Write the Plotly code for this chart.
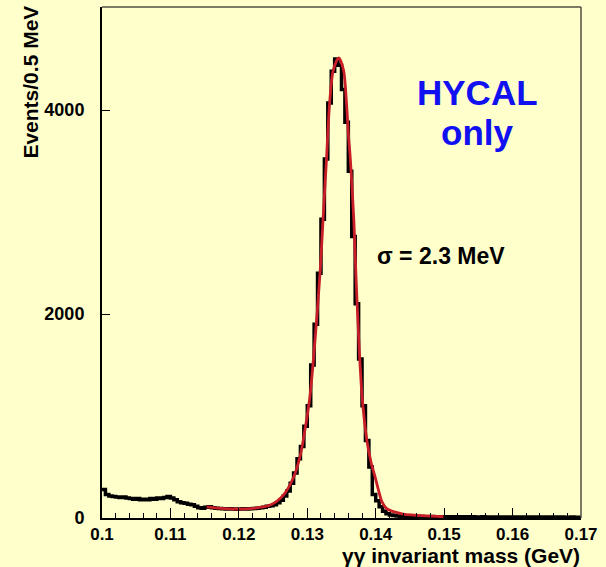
import numpy as np
import plotly.graph_objects as go

# ---- data ----
bin_low = 0.100
bin_width = 0.0005
counts = [
    280, 230, 215, 210, 205, 200, 205, 195, 190, 185,
    190, 180, 185, 180, 190, 185, 195, 190, 200, 210,
    195, 180, 160, 150, 145, 135, 130, 115, 100, 95,
    105, 110, 100, 95, 92, 90, 88, 90, 88, 85,
    88, 90, 88, 90, 92, 95, 100, 105, 115, 120,
    130, 150, 175, 215, 265, 340, 440, 580, 700, 900,
    1100, 1500, 1900, 2400, 2930, 3520, 4070, 4380, 4500, 4440,
    4200, 3880, 3400, 2760, 2100, 1560, 1100, 760, 500, 230,
    170, 110, 65, 42, 30, 24, 20, 18, 16, 15,
    14, 15, 13, 14, 12, 13, 14, 12, 13, 12,
    13, 12, 11, 13, 12, 11, 12, 11, 12, 10,
    11, 12, 10, 11, 10, 11, 10, 9, 10, 11,
    10, 9, 10, 9, 10, 9, 9, 10, 8, 9,
    9, 8, 9, 8, 9, 8, 8, 9, 8, 8,
]

fit_mass = [0.1153, 0.1173, 0.1197, 0.1217, 0.1226, 0.1246, 0.1265, 0.1280,
            0.1290, 0.1297, 0.1304, 0.1312, 0.1319, 0.1323, 0.1328, 0.1330,
            0.1333, 0.1338, 0.1346, 0.1353, 0.1357, 0.1360, 0.1363, 0.1368,
            0.1371, 0.1375, 0.1380, 0.1387, 0.1393, 0.1399, 0.1404, 0.1409,
            0.1416, 0.1426, 0.1440, 0.1475, 0.1499]
fit_counts = [110, 95, 88, 92, 100, 127, 225, 400,
              620, 880, 1200, 1800, 2440, 2920, 3510, 3770,
              4100, 4390, 4510, 4390, 4100, 3770, 3510, 2920,
              2400, 1780, 1200, 765, 552, 405, 275, 160,
              92, 62, 39, 20, 13]

x_ticks = [0.1, 0.11, 0.12, 0.13, 0.14, 0.15, 0.16, 0.17]
x_tick_text = ["0.1", "0.11", "0.12", "0.13", "0.14", "0.15", "0.16", "0.17"]
y_ticks = [0, 2000, 4000]
y_tick_text = ["0", "2000", "4000"]

# ---- build step histogram ----
edges = bin_low + bin_width * np.arange(len(counts) + 1)
hx = list(edges)
hy = list(counts) + [counts[-1]]

BG = "rgb(255,255,204)"
FONT = "Liberation Sans, Arial, sans-serif"

fig = go.Figure()
fig.add_trace(go.Scatter(x=hx, y=hy, mode="lines", line=dict(shape="hv", color="black", width=3.5),
                         hoverinfo="skip", showlegend=False))
fig.add_trace(go.Scatter(x=fit_mass, y=fit_counts, mode="lines",
                         line=dict(shape="spline", smoothing=0.8, color="rgb(200,30,40)", width=2.8),
                         hoverinfo="skip", showlegend=False))

fig.update_layout(
    width=606, height=567,
    margin=dict(l=102, r=25, t=7, b=49),
    paper_bgcolor=BG, plot_bgcolor=BG,
    font=dict(family=FONT, color="black"),
    xaxis=dict(range=[0.1, 0.17], tickvals=x_ticks, ticktext=x_tick_text,
               ticks="inside", ticklen=10, tickwidth=1, tickcolor="black",
               minor=dict(dtick=0.002, tick0=0.1, ticks="inside", ticklen=5, tickcolor="black", tickwidth=1),
               showline=True, linecolor="black", linewidth=2, showgrid=False, zeroline=False,
               tickfont=dict(size=17, family=FONT, weight="bold"), ticklabelstandoff=0),
    yaxis=dict(range=[0, 5010], tickvals=y_ticks, ticktext=y_tick_text,
               ticks="inside", ticklen=8, tickwidth=1, tickcolor="black",
               showline=True, linecolor="black", linewidth=2, showgrid=False, zeroline=False,
               tickfont=dict(size=18, family=FONT, weight="bold"), ticklabelstandoff=12),
)

# top and right frame lines (gray)
fig.add_shape(type="line", xref="paper", yref="paper", x0=0, x1=1, y0=1, y1=1,
              line=dict(color="rgb(80,80,70)", width=1.5))
fig.add_shape(type="line", xref="paper", yref="paper", x0=1, x1=1, y0=0, y1=1,
              line=dict(color="rgb(80,80,70)", width=1.5))

fig.add_annotation(text="Events/0.5 MeV", xref="paper", yref="paper", x=-0.150, y=1.006,
                   xanchor="center", yanchor="top", textangle=-90, showarrow=False,
                   font=dict(size=21, family=FONT, weight="bold", color="black"))
fig.add_annotation(text="γγ invariant mass (GeV)", xref="paper", yref="paper", x=1.002, y=-0.073,
                   xanchor="right", yanchor="middle", showarrow=False,
                   font=dict(size=21, family=FONT, weight="bold", color="black"))
fig.add_annotation(text="HYCAL", xref="paper", yref="paper", x=0.783, y=0.832,
                   xanchor="center", yanchor="middle", showarrow=False,
                   font=dict(size=35, family=FONT, weight="bold", color="rgb(16,16,240)"))
fig.add_annotation(text="only", xref="paper", yref="paper", x=0.783, y=0.755,
                   xanchor="center", yanchor="middle", showarrow=False,
                   font=dict(size=35, family=FONT, weight="bold", color="rgb(16,16,240)"))
fig.add_annotation(text="σ = 2.3 MeV", xref="paper", yref="paper", x=0.570, y=0.513,
                   xanchor="left", yanchor="middle", showarrow=False,
                   font=dict(size=23, family=FONT, weight="bold", color="black"))

fig.write_html("out.html")
